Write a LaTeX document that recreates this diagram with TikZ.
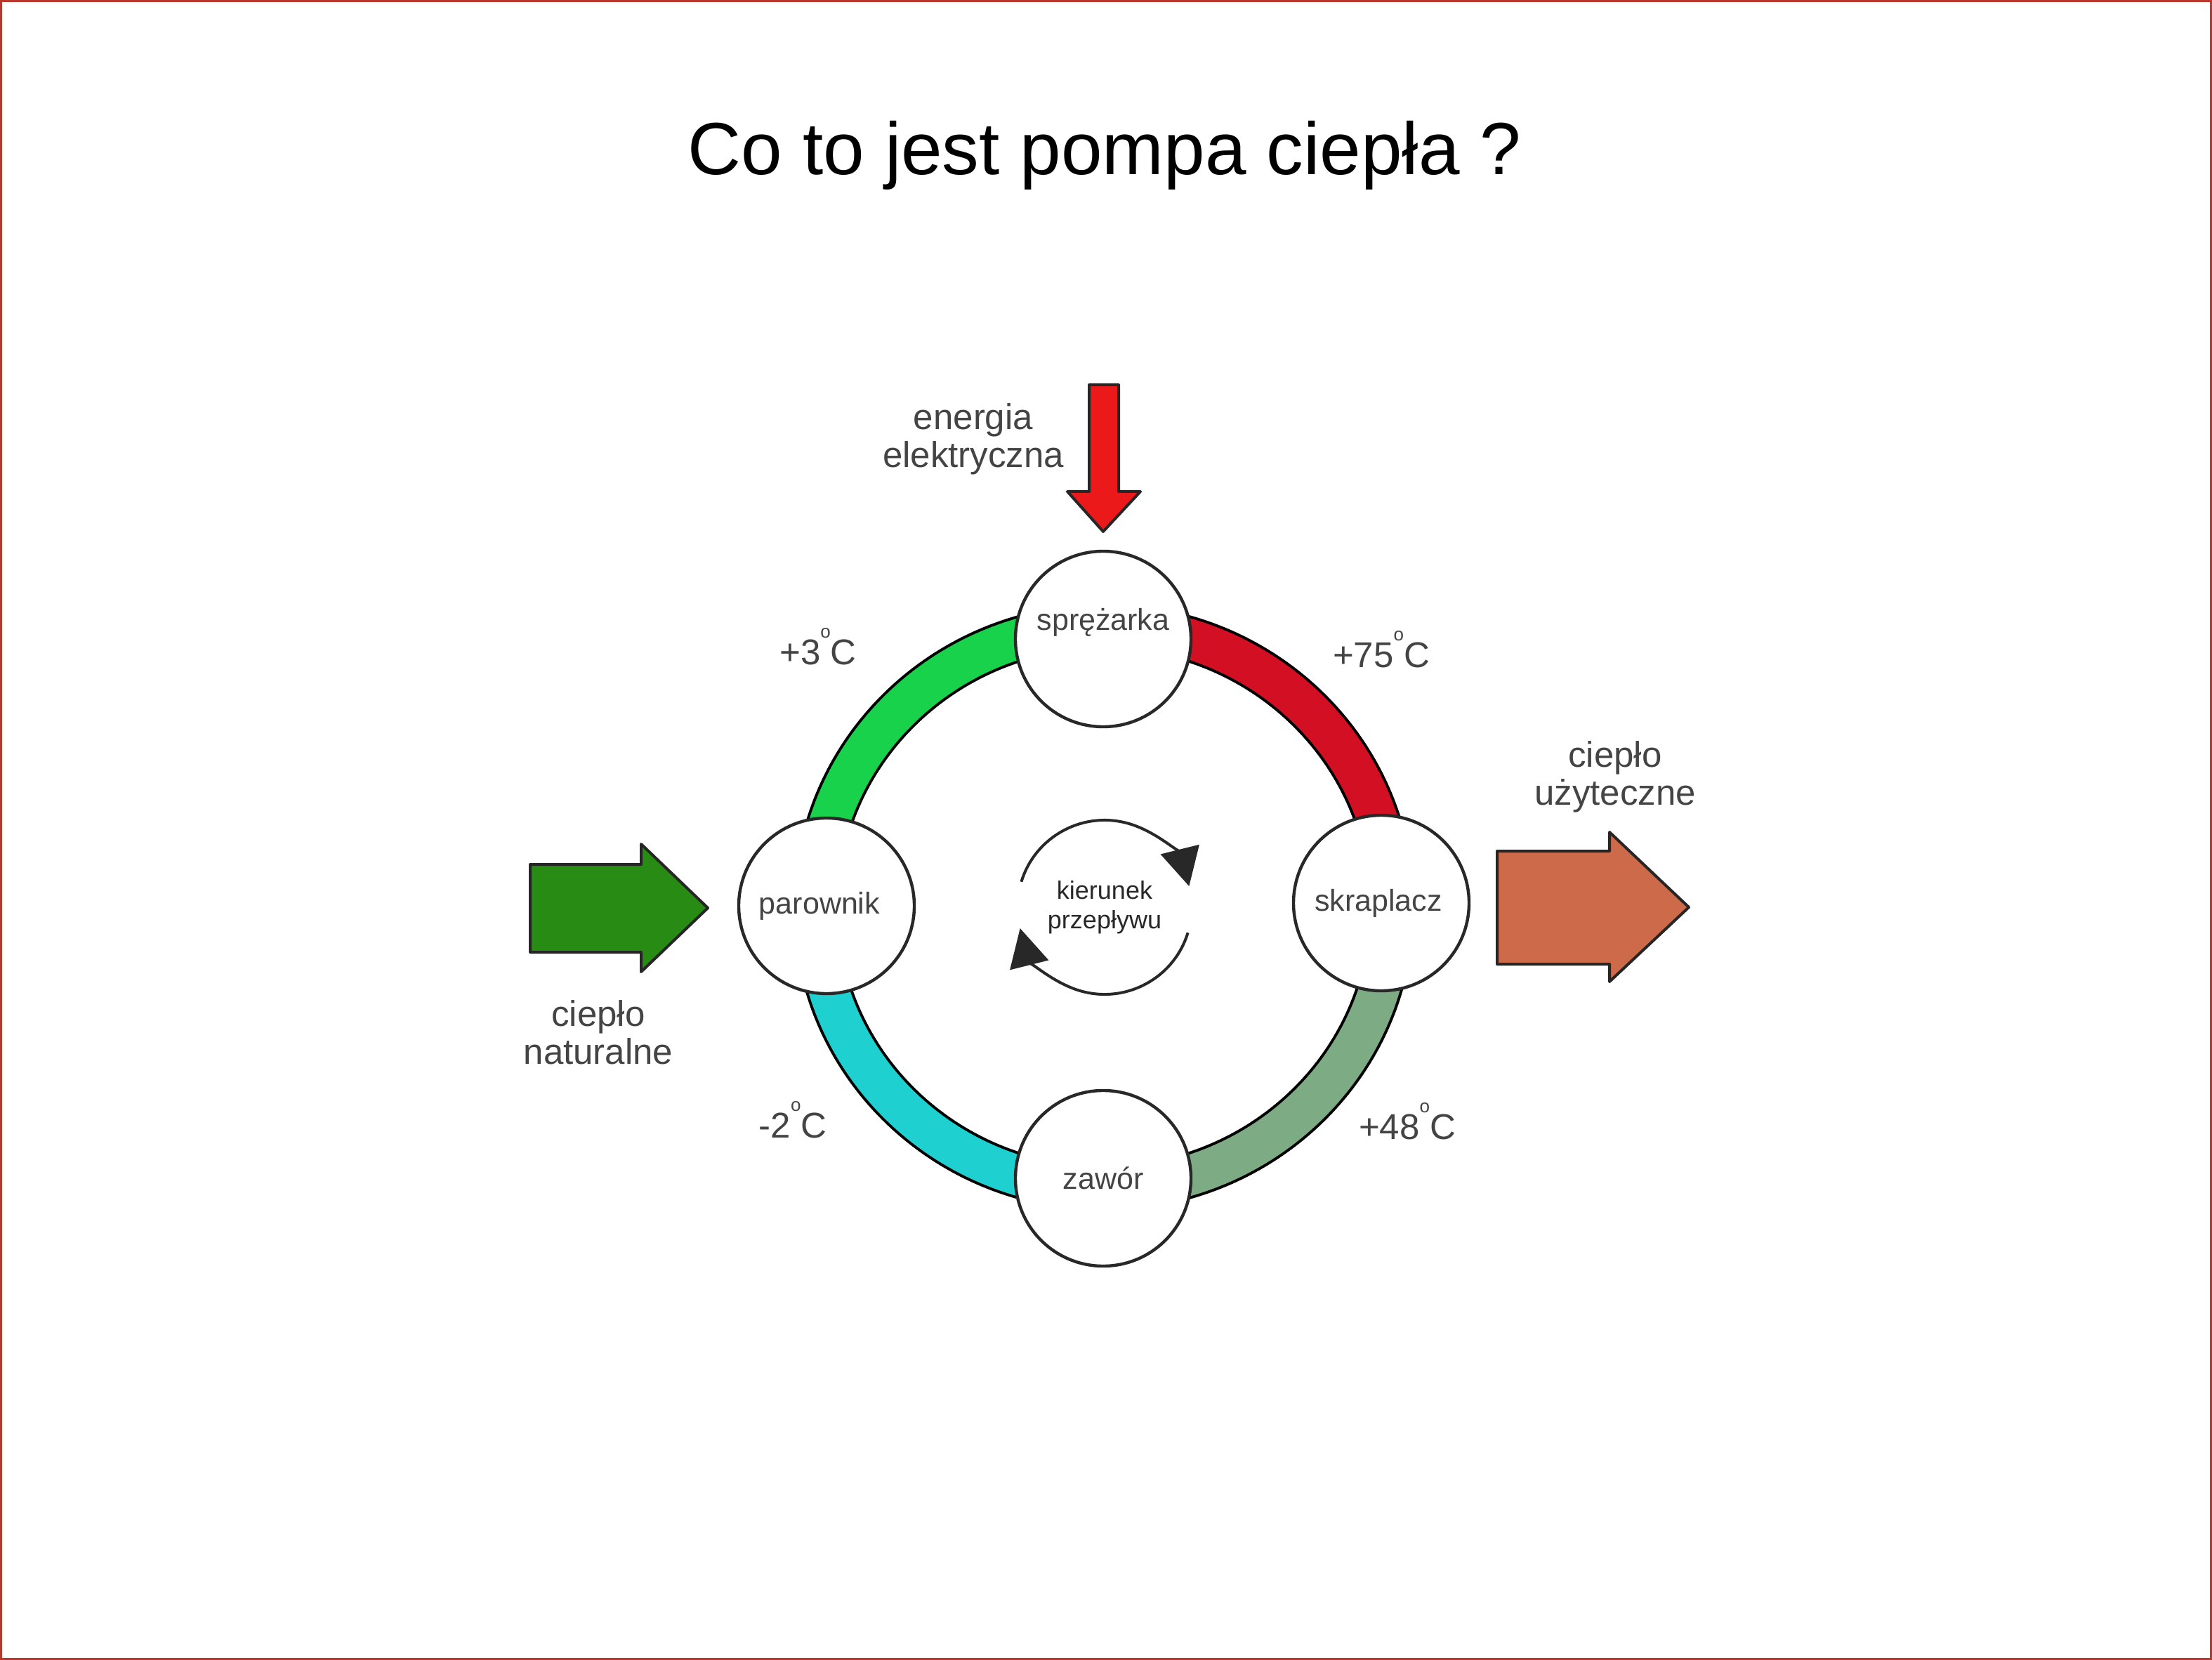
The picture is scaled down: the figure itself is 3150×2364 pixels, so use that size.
\documentclass[tikz,border=0pt]{standalone}
\usepackage{fontspec}
\setmainfont{Liberation Sans}
\usetikzlibrary{arrows.meta,calc}
\pgfdeclarelayer{bg}
\pgfsetlayers{bg,main}
\definecolor{bandgreen}{RGB}{25,210,75}
\definecolor{bandred}{RGB}{210,15,35}
\definecolor{bandsage}{RGB}{125,172,132}
\definecolor{bandcyan}{RGB}{30,208,208}
\definecolor{arrowred}{RGB}{235,25,25}
\definecolor{arrowgreen}{RGB}{40,140,20}
\definecolor{arroworange}{RGB}{205,106,74}
\definecolor{framered}{RGB}{185,55,45}
\definecolor{labelgray}{RGB}{68,68,68}
\definecolor{ringgray}{RGB}{40,40,40}
\newcommand\degsign{\raisebox{19pt}{\fontsize{13}{13}\selectfont o}}
\begin{document}
\begin{tikzpicture}[x=0.5pt,y=0.5pt,
  lbl/.style={text=labelgray,font=\fontsize{25.5}{27}\selectfont,align=center,inner sep=0},
  templbl/.style={text=labelgray,font=\fontsize{25.5}{27}\selectfont,inner sep=0,anchor=base},
  nodecirc/.style={circle,draw=ringgray,line width=2.2pt,fill=white,minimum size=125pt,inner sep=0,
    text=labelgray,font=\fontsize{21.5}{24}\selectfont},
  nodetxt/.style={text=labelgray,font=\fontsize{21.5}{24}\selectfont,inner sep=0},
  bandout/.style={line width=32.5pt,draw=black},
  bandin/.style={line width=28.5pt},
  flowarc/.style={line width=2pt,draw=ringgray,-{Triangle[length=27pt,width=28pt]}},
  blockarrow/.style={line width=2pt,draw=black!85,line join=round},
]
\useasboundingbox (0,0) rectangle (3150,-2364);
\draw[framered,line width=1.5pt] (1.5,-1.5) rectangle (3148.5,-2362.5);

\node[font=\fontsize{52.6}{60}\selectfont,anchor=base,inner sep=0] (title) at (1573,-249) {Co to jest pompa ciepła ?};

\coordinate (ring) at (1572,-1292);
\node[nodecirc] (spr) at (1571,-910) {};
\node[nodetxt] (sprtxt) at ([yshift=12pt]spr.center) {sprężarka};
\node[nodecirc] (par) at (1177,-1290) {\hspace*{-10pt}parownik};
\node[nodecirc] (skr) at (1967,-1286) {\hspace*{-4pt}skraplacz};
\node[nodecirc] (zaw) at (1571,-1678) {zawór};

\begin{pgfonlayer}{bg}
\foreach \b/\col in {90/bandgreen, 0/bandred, -90/bandsage, 180/bandcyan}{
  \draw[bandout] (ring) ++(\b:410 and 400) arc[start angle=\b,end angle=\b+90,x radius=410,y radius=400];
  \draw[bandin,draw=\col] (ring) ++(\b:410 and 400) arc[start angle=\b,end angle=\b+90,x radius=410,y radius=400];
}
\end{pgfonlayer}

% flow direction indicator
\node[text=ringgray,font=\fontsize{18}{21}\selectfont,align=center,inner sep=0] (flow) at (1573,-1292) {kierunek\\przepływu};
\draw[flowarc] (flow.center) ++(163:124) arc[start angle=163,end angle=14,radius=124];
\draw[flowarc] (flow.center) ++(-17:124) arc[start angle=-17,end angle=-166,radius=124];

% energia elektryczna arrow
\draw[blockarrow,fill=arrowred] (1551,-548) -- (1593,-548) -- (1593,-700) -- (1624,-700) -- (1571,-757) -- (1520,-700) -- (1551,-700) -- cycle;
\node[lbl] (energ) at (1386,-625) {energia\\elektryczna};

% ciepło naturalne arrow
\draw[blockarrow,fill=arrowgreen] (755,-1231) -- (913,-1231) -- (913,-1202) -- (1008,-1293) -- (913,-1384) -- (913,-1356) -- (755,-1356) -- cycle;
\node[lbl] (natur) at (852,-1470) {ciepło\\naturalne};

% ciepło użyteczne arrow
\draw[blockarrow,fill=arroworange] (2132,-1212) -- (2292,-1212) -- (2292,-1185) -- (2405,-1292) -- (2292,-1398) -- (2292,-1373) -- (2132,-1373) -- cycle;
\node[lbl] (uzyt) at (2300,-1106) {ciepło\\użyteczne};

% temperatures
\node[templbl] (t1) at (1165,-946) {+3\degsign C};
\node[templbl] (t2) at (1967,-950) {+75\degsign C};
\node[templbl] (t3) at (1129,-1620) {-2\degsign C};
\node[templbl] (t4) at (2004,-1622) {+48\degsign C};
\end{tikzpicture}
\end{document}
